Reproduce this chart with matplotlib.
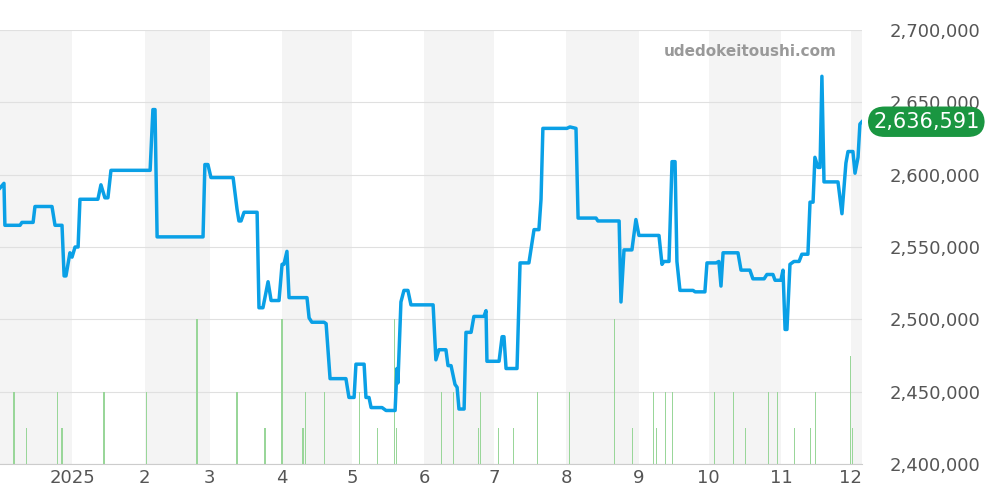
import matplotlib
matplotlib.use("Agg")
import matplotlib.pyplot as plt
from matplotlib.ticker import FuncFormatter

# day offsets from 2024-12-01
days = [0,1.7,2.1,8.6,9.4,14.2,15.0,22.3,23.6,26.6,27.5,28.3,30.0,30.9,32.2,33.5,34.3,42.0,43.3,45.0,46.3,47.6,64.4,65.6,66.5,67.4,87.1,87.9,89.2,90.5,100.0,101.7,102.5,103.4,104.7,110.3,111.1,112.8,115.0,116.3,119.7,121.0,121.8,123.1,124.0,131.7,132.6,133.8,139.0,139.9,141.6,148.4,149.7,151.9,152.7,156.2,157.0,158.3,159.2,163.9,165.6,169.5,170.3,170.7,172.0,173.3,175.0,176.3,185.8,187.0,188.3,191.3,192.2,193.5,195.2,196.1,196.9,199.1,199.9,202.1,203.3,207.6,208.5,208.9,214.1,215.4,216.2,217.1,221.8,223.1,226.9,229.1,231.2,232.1,232.9,243.2,244.5,247.1,248.0,255.7,256.5,265.6,266.4,267.7,271.1,272.8,274.1,282.7,284.0,284.8,287.0,288.3,289.6,290.4,291.7,297.3,298.2,302.4,303.3,307.2,308.4,309.3,310.2,316.6,317.9,321.7,323.0,327.8,329.0,331.6,332.5,335.0,335.9,336.8,337.6,338.9,340.6,342.8,344.0,346.6,347.5,348.8,349.6,350.9,351.8,352.6,353.5,359.5,361.2,362.9,363.8,365.9,366.8,368.1,368.9,369.8]
prices = [2590800,2594000,2565000,2565000,2567000,2567000,2578000,2578000,2565000,2565000,2530000,2530000,2546000,2543000,2550000,2550000,2583000,2583000,2593000,2584000,2584000,2603000,2603000,2645000,2645000,2557000,2557000,2607000,2607000,2598000,2598000,2576000,2568000,2568000,2574000,2574000,2508000,2508000,2526000,2513000,2513000,2538000,2538000,2547000,2515000,2515000,2501000,2498000,2498000,2497000,2459000,2459000,2446000,2446000,2469000,2469000,2446000,2446000,2439000,2439000,2437000,2437000,2466000,2456000,2512000,2520000,2520000,2510000,2510000,2472000,2479000,2479000,2468000,2468000,2455000,2453000,2438000,2438000,2491000,2491000,2502000,2502000,2506000,2471000,2471000,2488000,2488000,2466000,2466000,2539000,2539000,2562000,2562000,2583000,2632000,2632000,2633000,2632000,2570000,2570000,2568000,2568000,2512000,2548000,2548000,2569000,2558000,2558000,2538000,2540000,2540000,2609000,2609000,2540000,2520000,2520000,2519000,2519000,2539000,2539000,2540000,2523000,2546000,2546000,2534000,2534000,2528000,2528000,2531000,2531000,2527000,2527000,2534000,2493000,2493000,2538000,2540000,2540000,2545000,2545000,2581000,2581000,2612000,2605000,2605000,2668000,2595000,2595000,2573000,2608000,2616000,2616000,2601000,2612000,2635000,2636591]

vol_days = [6.0,11.2,24.5,26.6,44.6,62.7,84.5,101.7,113.7,121.0,130.0,130.9,139.1,154.1,161.8,169.1,170.0,189.3,194.4,205.2,206.0,213.7,220.2,230.5,244.2,263.5,271.2,280.3,281.5,285.4,288.4,306.4,314.6,319.7,329.6,333.5,340.8,347.6,349.8,364.8,365.7]
vol_counts = [1,0.5,1,0.5,1,1,2,1,0.5,2,0.5,1,1,1,0.5,2,0.5,1,1,0.5,1,0.5,0.5,1,1,2,0.5,1,0.5,1,1,1,1,0.5,1,1,0.5,0.5,1,1.5,0.5]

month_starts = [0,31,62,90,121,151,182,212,243,274,304,335,365]
month_labels = ["", "2025","2","3","4","5","6","7","8","9","10","11","12"]

fig = plt.figure(figsize=(10,5), dpi=100)
ax = fig.add_axes([0, 0.072, 0.862, 0.868])
ax.set_xlim(0, 369.8)
ax.set_ylim(2400000, 2700000)

for i in range(0, len(month_starts), 2):
    end = month_starts[i+1] if i+1 < len(month_starts) else 400
    ax.axvspan(month_starts[i], end, color="#f4f4f4", zorder=0, lw=0)

ax2 = ax.twinx()
ax2.set_ylim(0, 6)
ax2.bar(vol_days, vol_counts, width=0.5, color="#99d699", zorder=1)
ax2.axis("off")

ax3 = ax.twinx()
ax3.set_ylim(2400000, 2700000)
ax3.axis("off")
ax3.plot(days, prices, color="#0aa0e6", lw=2.5, zorder=3)

ax.yaxis.tick_right()
ax.set_yticks(range(2400000, 2700001, 50000))
ax.yaxis.set_major_formatter(FuncFormatter(lambda v, p: f"{int(v):,}"))
ax.grid(axis="y", color="#e0e0e0", lw=0.8)
ax.set_xticks(month_starts[1:])
ax.set_xticklabels(month_labels[1:])
ax.tick_params(axis="both", length=0, labelsize=13, labelcolor="#555555")
ax.tick_params(axis="y", pad=20)
for s in ax.spines.values():
    s.set_visible(False)
ax.spines["bottom"].set_visible(True)
ax.spines["bottom"].set_color("#cccccc")

ax3.text(0.97, 0.95, "udedokeitoushi.com", transform=ax.transAxes, ha="right", va="center",
         fontsize=11, fontweight="bold", color="#999999")
ax3.annotate(f"{prices[-1]:,}", xy=(1.0, prices[-1]), xycoords=("axes fraction", "data"),
             xytext=(8, 0), textcoords="offset points", ha="left", va="center",
             fontsize=15, color="white",
             bbox=dict(boxstyle="round,pad=0.25,rounding_size=0.8", fc="#1a9641", ec="none"),
             annotation_clip=False)

fig.savefig("out.png")
